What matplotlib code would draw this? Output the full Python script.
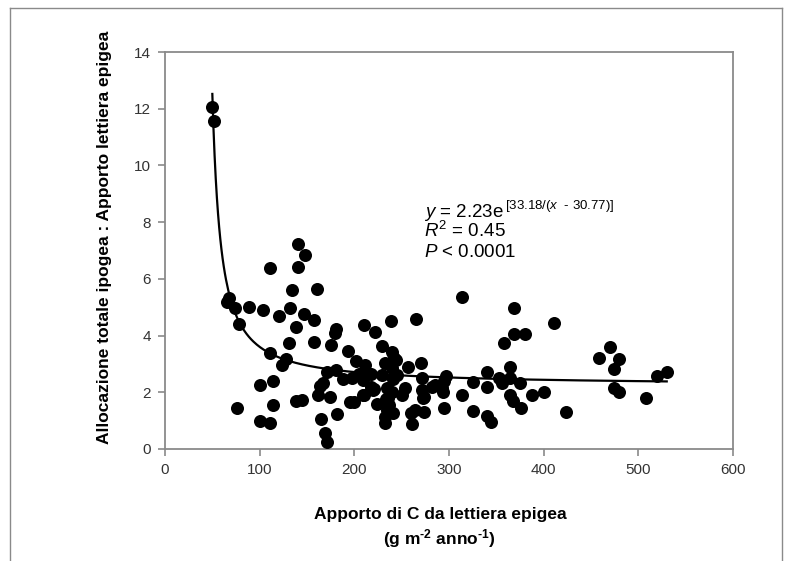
import numpy as np
import matplotlib
matplotlib.use("Agg")
import matplotlib.pyplot as plt
from matplotlib.lines import Line2D

plt.rcParams['font.family'] = ['Liberation Sans', 'DejaVu Sans']
plt.rcParams['mathtext.fontset'] = 'custom'
plt.rcParams['mathtext.rm'] = 'Liberation Sans'
plt.rcParams['mathtext.it'] = 'Liberation Sans:italic'
plt.rcParams['mathtext.bf'] = 'Liberation Sans:bold'

# litter C input (x) vs belowground allocation : litter input (y)
apporto = [50, 51.5, 68, 66, 74, 77.7, 76.5, 89, 103.6, 100, 100, 110.5, 110.5, 111,
           113.7, 114, 120, 124, 128, 131, 132, 134.4, 138.7, 140, 141, 138, 145, 147,
           147.7, 157.8, 157.8, 160.5, 162, 164, 166.8, 164.7, 169.5, 170.6, 171.6,
           174.8, 175.3, 179.6, 181, 181, 182, 187.6, 193, 195.5, 199.8, 198, 202,
           204.6, 208.8, 210, 211, 210, 218, 218, 220.5, 222, 223.7, 229.5, 232.7,
           234, 233, 232, 232, 235, 238.6, 239.6, 240, 240.7, 241.8, 243.9, 240,
           240.7, 250, 253.5, 256.6, 259.8, 261, 265, 264.6, 270.5, 271, 271.6, 274,
           274, 281.6, 284.8, 292.8, 295, 293.8, 296.5, 295, 313.5, 314, 325.7, 325.7,
           340, 340.6, 340, 344, 353, 356.5, 357.6, 364, 364, 364.5, 368, 369, 369,
           375, 376, 380, 388, 400, 410.7, 424, 458.5, 470, 474.5, 479.8, 474.5,
           479.8, 508, 519.7, 530, 236, 237, 229, 245, 220.2, 209.6, 273]
rapporto = [12.07, 11.57, 5.32, 5.17, 4.96, 4.41, 1.44, 5.02, 4.91, 2.24, 0.97, 6.39,
            3.38, 0.90, 2.40, 1.56, 4.68, 2.96, 3.18, 3.75, 4.96, 5.61, 4.31, 6.42,
            7.24, 1.70, 1.73, 4.75, 6.84, 4.54, 3.78, 5.64, 1.89, 2.21, 2.33, 1.07,
            0.55, 0.24, 2.71, 1.83, 3.66, 4.10, 4.23, 2.77, 1.22, 2.46, 3.44, 1.64,
            1.64, 2.52, 3.12, 2.65, 2.42, 4.38, 2.96, 1.92, 2.65, 2.17, 2.11, 4.12,
            1.58, 3.62, 3.03, 2.14, 1.77, 1.14, 0.92, 1.39, 4.50, 3.41, 2.84, 2.46,
            3.22, 3.15, 2.02, 1.26, 1.89, 2.14, 2.90, 1.26, 0.88, 4.60, 1.39, 3.03,
            2.52, 2.08, 1.83, 1.32, 2.17, 2.27, 2.14, 2.40, 2.02, 2.59, 1.45, 5.36,
            1.89, 2.36, 1.35, 2.71, 2.18, 1.17, 0.95, 2.52, 2.33, 3.75, 2.90, 2.52,
            1.89, 1.70, 4.96, 4.04, 2.33, 1.45, 4.04, 1.89, 2.02, 4.44, 1.32, 3.22,
            3.59, 2.81, 3.19, 2.14, 2.02, 1.80, 2.59, 2.71, 1.80, 1.55, 2.60, 2.60,
            2.08, 1.90, 1.79]

# fitted model parameters (from the equation in the chart)
a, b, c = 2.23, 33.18, 30.77
x_fit = np.linspace(50, 530, 400)
y_fit = a * np.exp(b / (x_fit - c))

fig = plt.figure(figsize=(7.9, 5.61), dpi=100)
ax = fig.add_axes([165/790, 1 - 449/561, (733 - 165)/790, (449 - 52)/561])

ax.scatter(apporto, rapporto, s=88, color='black', zorder=3, linewidths=0)
ax.plot(x_fit, y_fit, color='black', lw=1.6, zorder=2)

ax.set_xlim(0, 600)
ax.set_ylim(0, 14)
ax.set_xticks(range(0, 601, 100))
ax.set_yticks(range(0, 15, 2))
for s in ax.spines.values():
    s.set_color('#8a8a8a')
    s.set_linewidth(1.3)
ax.tick_params(direction='out', length=5, width=1.2, color='#8a8a8a',
               labelsize=11, labelcolor='#333333', pad=5)

ax.set_xlabel('Apporto di C da lettiera epigea\n(g m$^{\\mathbf{\u20102}}$ anno$^{\\mathbf{\u20101}}$)',
              fontsize=12.5, fontweight='bold', linespacing=1.3)
ax.xaxis.set_label_coords(0.484, -0.145)
ax.set_ylabel('Allocazione totale ipogea : Apporto lettiera epigea',
              fontsize=12.5, fontweight='bold')
ax.yaxis.set_label_coords(-0.094, 0.533)

fs = 13.5
t1 = ax.text(274, 8.18, r'$y$ = 2.23e', fontsize=fs, va='baseline', ha='left')
ax.annotate('[33.18/($x$  - 30.77)]', xy=(1, 1), xycoords=t1,
            xytext=(0.5, 3), textcoords='offset points',
            fontsize=9.5, va='top', ha='left')
ax.text(274, 7.48, r'$R^{\mathrm{2}}$ = 0.45', fontsize=fs, va='baseline', ha='left')
ax.text(274, 6.77, r'$P$ < 0.0001', fontsize=fs, va='baseline', ha='left')

# outer frame of the figure panel
fc = '#8a8a8a'
fig.add_artist(Line2D([10/790, 10/790], [0, 1 - 8/561], color=fc, lw=1))
fig.add_artist(Line2D([10/790, 782/790], [1 - 8/561, 1 - 8/561], color=fc, lw=1))
fig.add_artist(Line2D([782/790, 782/790], [0, 1 - 8/561], color=fc, lw=1))

fig.savefig('out.png', dpi=100)
